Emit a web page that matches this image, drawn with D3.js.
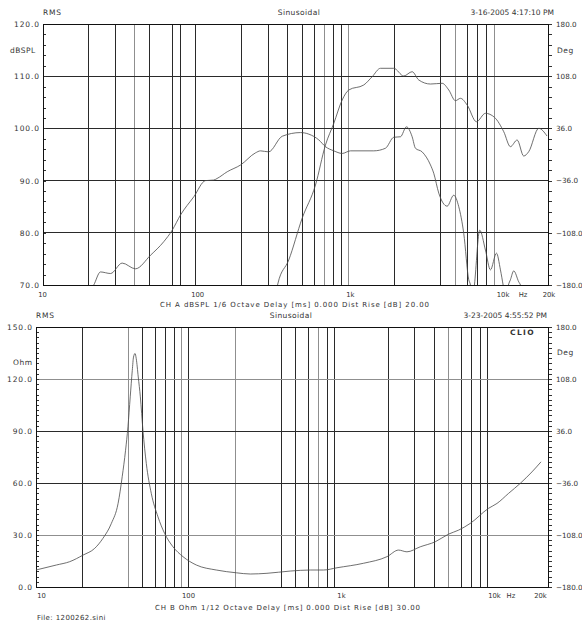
<!DOCTYPE html>
<html><head><meta charset="utf-8">
<script src="https://cdn.jsdelivr.net/npm/d3@7"></script>
<style>
html,body{margin:0;padding:0;background:#fff;}
svg{display:block;}
text{font-family:"DejaVu Sans",sans-serif;fill:#333;}
</style>
</head><body>
<svg id="c" width="582" height="621"></svg>
<script>
// ---------- DATA ----------
// Top chart: SPL (dB) and phase (deg) vs frequency (Hz)
const splFreq = [20,21.5,23.8,27.7,33,40.3,50.6,61.8,70.2,79.5,97.2,116,131,138,161,197,246,266,300,369,486,551,640,708,803,911,1032,1467,1750,1983,2194,2402,2617,2750,3043,3450,3625,3910,4436,4900,5285,5698,6145,6303,6480,6695,7253,7903,8521,9331,9910,10320,10750,11180,11520,12110,13060,13400,14500,20000];
const splDb   = [68.5,70,72.5,72.2,74.2,73.1,75.7,78.3,80.5,83.4,86.9,90.0,90.1,90.4,91.7,93.0,95.3,95.7,95.5,98.5,99.2,98.9,97.8,96.5,95.7,95.2,95.7,95.7,96.2,98.3,98.4,100.3,98.4,96.2,95.5,93.0,91.4,87.6,85.1,87.2,85.0,79.9,71.0,70.0,66.5,70.0,80.5,76.7,72.9,76.1,72.9,70.0,67.0,70.0,71.0,72.7,70.6,70.0,64,62];
const phaseFreq = [330,345,407,498,609,708,803,911,1006,1262,1432,1623,1983,2306,2617,2891,3450,4116,4546,5028,5422,5998,6901,7903,9054,10420,11520,12750,14080,15180,17660,20000];
const phaseDeg  = [-200,-178.6,-145.5,-88,-42.1,13.1,43,75.2,89,95.9,107.3,118.9,118.9,108.3,114.2,102.8,97.2,98.2,89,74.2,77.5,68.3,45.2,56.8,51.3,31.4,10.8,20,-2.1,3.9,36.1,25.5];
// Bottom chart: impedance (Ohm) vs frequency (Hz)
const impFreq = [10,13.6,16.6,20.3,24.2,27.4,31.1,34.4,36.6,38.5,39.9,41.3,42.6,43.4,44.4,45.2,46.6,48.1,50,52.6,56.7,62.7,69.3,78.6,91.4,111.6,150.8,203.8,251.6,323.4,459,621,758,928,1384,1969,2344,2660,3250,4072,4974,5782,6897,9082,10310,12270,14640,17450,20000];
const impOhm  = [9.8,12.7,14.6,18.4,22.3,28.1,36.7,48.2,63.6,78.9,92.4,109.7,125.0,132.7,134.7,131.8,121.2,109.7,90.5,71.3,54.0,40.5,30.9,23.2,17.5,12.7,9.8,8.2,7.5,7.9,9.2,9.8,9.8,11.1,13.7,17.5,21.3,20.3,23.2,26.1,30.5,32.8,36.7,45.4,48.2,54.0,59.8,66.4,72.2];

// Axis ticks / labels
const xLabelFreqs = [10,100,1000,10000,20000];
const xLabelText  = ["10","100","1k","10k","20k"];
const topYTicks = [70,80,90,100,110,120];
const botYTicks = [0,30,60,90,120,150];
const degTicks  = [-180,-108,-36,36,108,180];
const topGrid = [20,30,40,50,70,80,100,200,300,400,500,600,700,800,900,1000,2000,4000,5000,6000,7000,8000,9000];
const topGridLight = [40,700,1000,5000,9000];
const botGrid = [20,40,50,60,70,80,90,100,200,400,500,600,700,800,900,2000,3000,4000,5000,6000,7000,8000,9000];
const botGridLight = [40,90,200,700,5000];
const topHGrid = [80,90,100,110];
const botHGrid = [30,60,90,120];
const botHGridLight = [30,120];

// ---------- DRAW ----------
const svg = d3.select("#c");
const fmt1 = d3.format(".1f");
const xFmt = d => xLabelText[xLabelFreqs.indexOf(d)];

function chart(o){
  const g = svg.append("g");
  const x = d3.scaleLog().domain([10,20000]).range([o.x10, o.x20k]);
  const y = d3.scaleLinear().domain(o.yDomain).range([o.bottom, o.top]);
  const yr = d3.scaleLinear().domain([-180,180]).range([o.bottom, o.top]);

  g.append("clipPath").attr("id", o.id).append("rect")
    .attr("x", o.left).attr("y", o.top).attr("width", o.right-o.left).attr("height", o.bottom-o.top);

  // vertical grid
  g.append("g").selectAll("line").data(o.grid).join("line")
    .attr("x1", d=>x(d)).attr("x2", d=>x(d)).attr("y1", o.top).attr("y2", o.bottom)
    .attr("stroke", d=>o.gridLight.includes(d) ? "#8f8f8f" : "#2a2a2a")
    .attr("stroke-width", 1).attr("shape-rendering","crispEdges");
  // horizontal grid
  g.append("g").selectAll("line").data(o.hgrid).join("line")
    .attr("x1", o.left).attr("x2", o.right).attr("y1", d=>y(d)).attr("y2", d=>y(d))
    .attr("stroke", d=>o.hgridLight.includes(d) ? "#8f8f8f" : "#2a2a2a")
    .attr("stroke-width", 1).attr("shape-rendering","crispEdges");

  // left labels
  const la = g.append("g").attr("transform",`translate(${o.left},0)`)
    .call(d3.axisLeft(y).tickValues(o.yTicks).tickFormat(fmt1).tickSize(0).tickPadding(3));
  la.select(".domain").remove();
  la.selectAll("text").attr("font-family","DejaVu Sans").attr("font-size","7.5px").attr("fill","#333").attr("letter-spacing","0.9px");
  // left minor ticks (inside)
  const lm = g.append("g").attr("transform",`translate(${o.left},0)`)
    .call(d3.axisRight(y).tickValues(d3.range(o.yDomain[0], o.yDomain[1]+0.001, o.yMinor)).tickSize(3).tickFormat(""));
  lm.select(".domain").remove();
  lm.selectAll("line").attr("stroke","#333").attr("shape-rendering","crispEdges");

  // right labels
  const ra = g.append("g").attr("transform",`translate(${o.right},0)`)
    .call(d3.axisRight(yr).tickValues(degTicks).tickFormat(fmt1).tickSize(0).tickPadding(8));
  ra.select(".domain").remove();
  ra.selectAll("text").attr("font-family","DejaVu Sans").attr("font-size","7.2px").attr("fill","#333");
  const rm = g.append("g").attr("transform",`translate(${o.right},0)`)
    .call(d3.axisRight(yr).tickValues(d3.range(-180, 180.001, o.rMinor)).tickSize(4).tickFormat(""));
  rm.select(".domain").remove();
  rm.selectAll("line").attr("stroke","#333").attr("shape-rendering","crispEdges");

  // x labels
  const xa = g.append("g").attr("transform",`translate(0,${o.bottom})`)
    .call(d3.axisBottom(x).tickValues(xLabelFreqs).tickFormat(xFmt).tickSize(0).tickPadding(o.xPad));
  xa.select(".domain").remove();
  xa.selectAll("text").attr("font-family","DejaVu Sans").attr("font-size","6.8px").attr("fill","#333")
    .attr("dx", d => d===10 ? o.firstShift : o.labelShift);
  g.append("text").attr("x", x(10000)+o.hzShift).attr("y", o.bottom+o.xPad+4.8).attr("text-anchor","middle")
    .attr("font-size","6.8px").text("Hz");

  // frame
  g.append("rect").attr("x",o.left).attr("y",o.top).attr("width",o.right-o.left).attr("height",o.bottom-o.top)
    .attr("fill","none").attr("stroke","#111").attr("stroke-width",1).attr("shape-rendering","crispEdges");

  // curves
  const cg = g.append("g").attr("clip-path",`url(#${o.id})`);
  o.series.forEach(s=>{
    const sc = s.axis === "right" ? yr : y;
    const pts = s.f.map((f,i)=>[x(f), sc(s.v[i])]);
    cg.append("path").attr("d", d3.line().curve(d3.curveMonotoneX)(pts))
      .attr("fill","none").attr("stroke","#4a4a4a").attr("stroke-width",0.8);
  });

  // texts
  const t = (xx,yy,str,anchor,size,extra) => {
    const e = g.append("text").attr("x",xx).attr("y",yy).attr("text-anchor",anchor||"start")
      .attr("font-size",(size||7.5)+"px").text(str);
    if(extra) extra(e);
    return e;
  };
  t(o.left, o.headY, "RMS", "start", 7.5, e=>e.attr("letter-spacing","0.8px"));
  t(o.sinX, o.headY, "Sinusoidal", "middle", 7.5, e=>e.attr("letter-spacing","0.4px"));
  t(o.dateX, o.headY, o.date, "end", 7.5);
  t(o.unitX, o.unitY, o.unit, "start", 7.5, e=>e.attr("letter-spacing","0.5px"));
  t(557, o.degY, "Deg", "start", 7.5, e=>e.attr("letter-spacing","0.5px"));
  t(o.capX, o.capY, o.caption, "start", 7, e=>e.attr("textLength", o.capW).attr("lengthAdjust","spacing"));
}

chart({
  id:"clipTop", left:43, right:548, top:24, bottom:285, x10:43, x20k:547,
  yDomain:[70,120], yTicks:topYTicks, yMinor:2, rMinor:14.4,
  grid:topGrid, gridLight:topGridLight, hgrid:topHGrid, hgridLight:[],
  xPad:7, firstShift:-1, labelShift:1.5, hzShift:22,
  headY:15, sinX:299, dateX:554, date:"3-16-2005 4:17:10 PM",
  unit:"dBSPL", unitX:10, unitY:52.5, degY:52.5,
  caption:"CH A   dBSPL   1/6 Octave   Delay [ms] 0.000     Dist Rise [dB] 20.00", capX:160, capY:307, capW:269,
  series:[{f:splFreq, v:splDb, axis:"left"},{f:phaseFreq, v:phaseDeg, axis:"right"}]
});

chart({
  id:"clipBot", left:36, right:548, top:327, bottom:587, x10:36, x20k:541,
  yDomain:[0,150], yTicks:botYTicks, yMinor:3, rMinor:7.2,
  grid:botGrid, gridLight:botGridLight, hgrid:botHGrid, hgridLight:botHGridLight,
  xPad:6, firstShift:5, labelShift:-1, hzShift:16,
  headY:318, sinX:291, dateX:547, date:"3-23-2005 4:55:52 PM",
  unit:"Ohm", unitX:13, unitY:364.5, degY:355,
  caption:"CH B   Ohm   1/12 Octave   Delay [ms] 0.000     Dist Rise [dB] 30.00", capX:155, capY:609.5, capW:265,
  series:[{f:impFreq, v:impOhm, axis:"left"}]
});

svg.append("text").attr("x",510).attr("y",334.5).attr("font-size","7.5px").attr("font-weight","bold")
  .attr("letter-spacing","1.4px").attr("fill","#222").text("CLIO");
svg.append("text").attr("x",37).attr("y",619.5).attr("font-size","7px").attr("letter-spacing","0.4px").text("File: 1200262.sini");
</script>
</body></html>
